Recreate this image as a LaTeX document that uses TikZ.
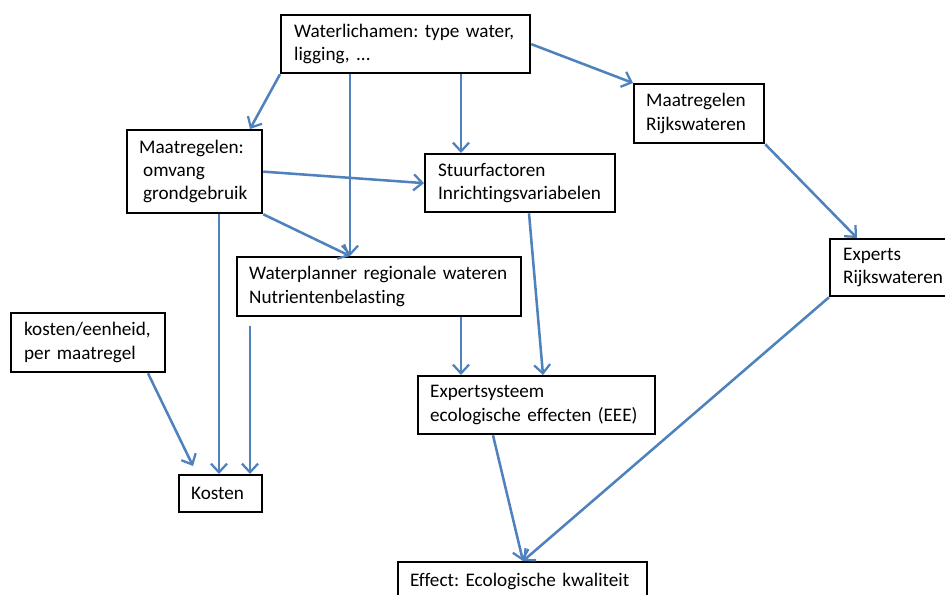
\documentclass[tikz,border=0pt]{standalone}
\usepackage{fontspec}
\setmainfont{Carlito}[Ligatures=CommonOff]
\usetikzlibrary{arrows.meta,calc}
\definecolor{arrblue}{HTML}{4F81BD}
\frenchspacing
\tikzset{
  box/.style={draw=black, line width=1.7pt, fill=white, anchor=north west, align=left,
    inner ysep=0pt, font=\fontsize{14.4pt}{17.5pt}\selectfont\frenchspacing},
  conn/.style={draw=arrblue, line width=1.9pt, -{Straight Barb[length=6.5pt,width=12pt,line width=1.7pt]}}
}
\begin{document}
\begin{tikzpicture}[x=0.75pt,y=-0.75pt]
\useasboundingbox (0,0) rectangle (945,594);
\node[box, inner xsep=9.75pt, text width=167.25pt, minimum height=43.5pt] (wl) at (280,14) {Waterlichamen: type water,\\ligging, ...};
\node[box, inner xsep=9pt, text width=83.25pt, minimum height=62.25pt] (mg) at (126,129) {Maatregelen:\\\hspace*{3pt}omvang\\\hspace*{3pt}grondgebruik};
\node[box, inner xsep=9pt, text width=195pt, minimum height=44.25pt] (wp) at (236,256) {Waterplanner regionale wateren\\Nutrientenbelasting};
\node[box, inner xsep=9.75pt, text width=123pt, minimum height=43.5pt] (sf) at (424,153) {Stuurfactoren\\Inrichtingsvariabelen};
\node[box, inner xsep=9.75pt, text width=96pt, minimum height=44.25pt] (ke) at (10,312) {kosten/eenheid,\\per maatregel};
\node[box, inner xsep=9pt, text width=44.25pt, minimum height=27.75pt] (ko) at (178,474) {Kosten};
\node[box, inner xsep=9pt, text width=159.75pt, minimum height=43.5pt] (ee) at (417,375) {Expertsysteem\\ecologische effecten (EEE)};
\node[box, inner xsep=9pt, text width=168.75pt, minimum height=28.5pt] (ef) at (397,561) {Effect: Ecologische kwaliteit};
\node[box, inner xsep=9pt, text width=79.5pt, minimum height=44.25pt] (mr) at (633,83) {Maatregelen\\Rijkswateren};
\node[box, inner xsep=9.75pt, text width=78pt, minimum height=42.75pt] (ex) at (829,238) {Experts\\Rijkswateren};
\coordinate (wpfree) at (250,326);
\coordinate (kotip) at ($(ko.north west)+(15,-8)$);

\draw[conn] (wl.south west) -- (250,0 |- mg.north);
\draw[conn] (350,0 |- wl.south) -- (350,0 |- wp.north);
\draw[conn] (461,0 |- wl.south) -- (461,0 |- sf.north);
\draw[conn] (wl.east) -- (mr.north west);
\draw[conn] (mg.east) -- (sf.west);
\draw[conn] (mg.south east) -- (350,0 |- wp.north);
\draw[conn] (219,0 |- mg.south) -- (219,0 |- ko.north);
\draw[conn] (wpfree) -- (250,0 |- ko.north);
\draw[conn] (148,0 |- ke.south) -- (kotip);
\draw[conn] (461,0 |- wp.south) -- (461,0 |- ee.north);
\draw[conn] (529,0 |- sf.south) -- (543,0 |- ee.north);
\draw[conn] (493,0 |- ee.south) -- (523,0 |- ef.north);
\draw[conn] (ex.south west) -- (523,0 |- ef.north);
\draw[conn] (mr.south east) -- (857,0 |- ex.north);
\end{tikzpicture}
\end{document}
